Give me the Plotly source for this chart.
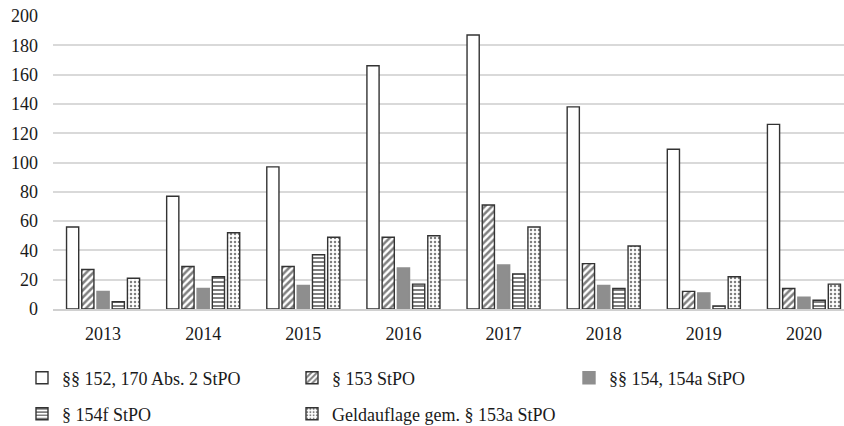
import plotly.graph_objects as go

years = ["2013", "2014", "2015", "2016", "2017", "2018", "2019", "2020"]
names = ["§§ 152, 170 Abs. 2 StPO", "§ 153 StPO", "§§ 154, 154a StPO",
         "§ 154f StPO", "Geldauflage gem. § 153a StPO"]
s_152 = [56, 77, 97, 166, 187, 138, 109, 126]
s_153 = [27, 29, 29, 49, 71, 31, 12, 14]
s_154 = [12, 14, 16, 28, 30, 16, 11, 8]
s_154f = [5, 22, 37, 17, 24, 14, 2, 6]
s_153a = [21, 52, 49, 50, 56, 43, 22, 17]
y_ticks = [0, 20, 40, 60, 80, 100, 120, 140, 160, 180, 200]

FONT = "Liberation Serif, Times New Roman, serif"
OUT = "#333333"
W, H = 844, 426

fig = go.Figure()
styles = [
    dict(color="white", pattern=dict(shape="")),
    dict(color="white", pattern=dict(shape="/", fgcolor="#000", bgcolor="white", size=5, solidity=0.5)),
    dict(color="#8e8e8e", pattern=dict(shape="")),
    dict(color="white", pattern=dict(shape="-", fgcolor="#000", bgcolor="white", size=4, solidity=0.5)),
    dict(color="white", pattern=dict(shape=".", fgcolor="#000", bgcolor="white", size=4, solidity=0.3)),
]
series = [s_152, s_153, s_154, s_154f, s_153a]
legend_ids = ["legend", "legend2", "legend3", "legend4", "legend5"]
for i, (nm, vals, st) in enumerate(zip(names, series, styles)):
    line_col = "#8e8e8e" if i == 2 else OUT
    fig.add_trace(go.Bar(
        x=years, y=vals, name=nm, showlegend=True,
        marker=dict(color=st["color"], pattern=st["pattern"],
                    line=dict(color=line_col, width=1.4)),
        legend=legend_ids[i],
    ))

# legend placement (text start px, row centre px)
leg_pos = [(61, 378), (331, 378), (608, 378), (61, 414), (331, 414)]
legends = {}
for lid, (tx, ty) in zip(legend_ids, leg_pos):
    legends[lid] = dict(xref="container", yref="container",
                        x=(tx - 39) / W, y=(H - ty) / H,
                        xanchor="left", yanchor="middle",
                        font=dict(size=18), itemwidth=30,
                        bgcolor="rgba(0,0,0,0)")

fig.update_layout(
    width=W, height=H, showlegend=True,
    margin=dict(l=53, r=0, t=16, b=117, autoexpand=False),
    paper_bgcolor="white", plot_bgcolor="white",
    barmode="group", bargap=0.24, bargroupgap=0.2,
    font=dict(family=FONT, size=18, color="#1a1a1a"),
    xaxis=dict(type="category", range=[-0.5, 7.4], showgrid=False,
               showline=True, linecolor="#d0d0d0", linewidth=1.5,
               ticks="", ticklabelstandoff=8, tickfont=dict(size=18),
               automargin=False),
    yaxis=dict(range=[0, 200], tickvals=y_ticks, showgrid=True,
               gridcolor="#d9d9d9", gridwidth=1.5, zeroline=False,
               showline=False, ticks="", ticklabelstandoff=14,
               tickfont=dict(size=18), automargin=False),
    **legends,
)

fig.write_html(
    "out.html",
    config={"displayModeBar": False},
    post_script="document.body.style.margin='0';document.body.style.padding='0';",
)
